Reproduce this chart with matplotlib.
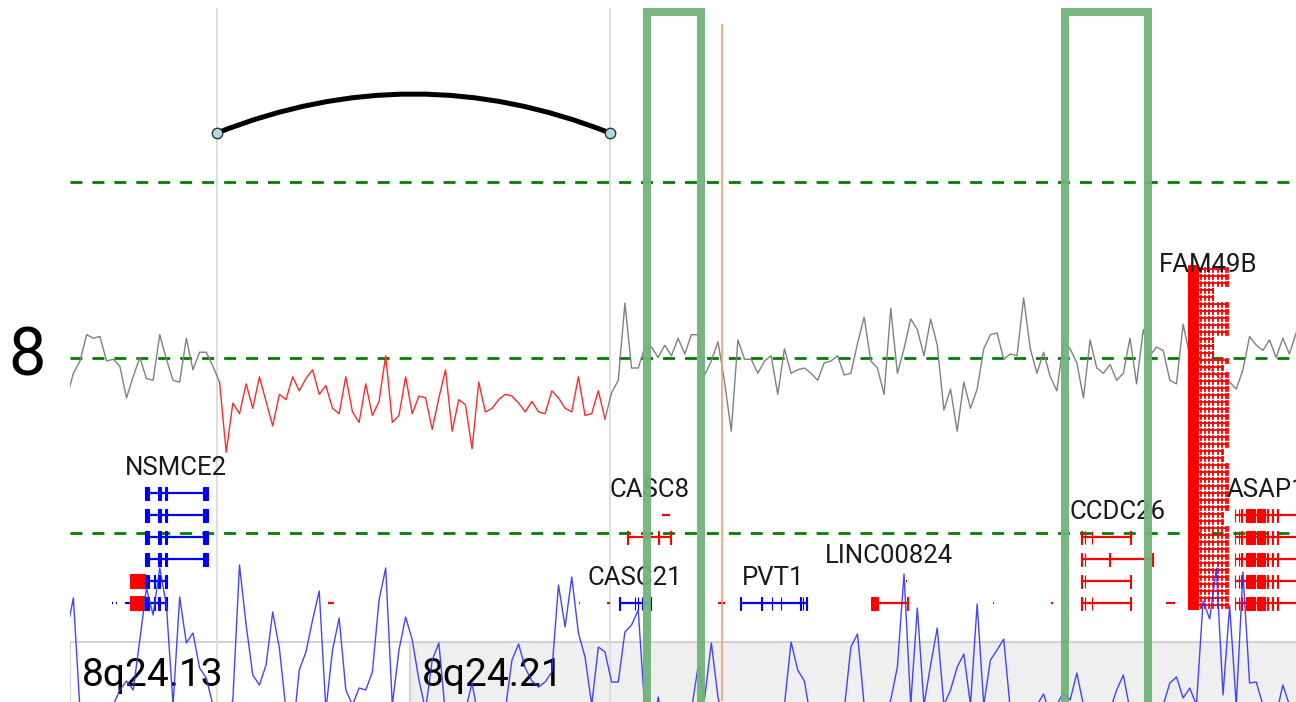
import numpy as np
import matplotlib.pyplot as plt
from matplotlib.patches import Rectangle, PathPatch
from matplotlib.path import Path

plt.rcParams['font.family'] = ['Roboto', 'DejaVu Sans']

# chr8 window shown, in Mb
VIEW = (125.749, 131.339)
BIN_START = 125.734
BIN_SIZE = 0.0303

# copy-number log ratio per bin
signal = [
    -0.23, -0.09, -0.02, 0.13, 0.11, 0.12, -0.02, -0.01, -0.05, -0.23,
    -0.11, 0.00, -0.12, -0.13, 0.13, -0.01, -0.13, -0.14, 0.11, -0.07,
    0.03, 0.03, -0.05, -0.14, -0.54, -0.26, -0.32, -0.15, -0.29, -0.11,
    -0.25, -0.39, -0.21, -0.24, -0.11, -0.19, -0.12, -0.07, -0.21, -0.16,
    -0.29, -0.32, -0.11, -0.31, -0.37, -0.15, -0.33, -0.25, 0.01, -0.37,
    -0.33, -0.11, -0.32, -0.22, -0.23, -0.41, -0.23, -0.07, -0.42, -0.24,
    -0.27, -0.52, -0.14, -0.31, -0.29, -0.24, -0.21, -0.22, -0.26, -0.31,
    -0.25, -0.31, -0.32, -0.19, -0.23, -0.29, -0.31, -0.11, -0.33, -0.32,
    -0.19, -0.35, -0.20, -0.13, 0.31, -0.06, -0.06, 0.06, 0.06, 0.00,
    0.07, 0.01, 0.11, 0.02, 0.13, 0.13, -0.10, -0.02, 0.09, -0.14,
    -0.42, 0.10, -0.01, -0.01, -0.09, -0.02, 0.01, -0.21, 0.05, -0.09,
    -0.07, -0.06, -0.09, -0.13, -0.03, -0.02, 0.01, -0.10, -0.09, 0.08,
    0.23, -0.02, -0.06, -0.21, 0.28, -0.09, 0.05, 0.22, 0.16, 0.01,
    0.22, 0.07, -0.30, -0.18, -0.42, -0.14, -0.29, -0.18, 0.05, 0.13,
    0.14, -0.01, 0.02, 0.01, 0.34, 0.05, -0.09, 0.03, -0.11, -0.19,
    0.09, 0.05, -0.03, -0.23, 0.10, -0.06, -0.09, -0.04, -0.13, -0.09,
    0.11, -0.15, 0.16, 0.01, 0.06, 0.04, -0.13, -0.15, 0.19, 0.01,
    -0.03, -0.06, -0.06, -0.10, -0.13, -0.14, -0.18, -0.07, 0.12, 0.07,
    0.04, 0.10, 0.00, 0.11, 0.02, 0.14,
]

# read coverage per bin
coverage = [
    12.8, 16.2, 5.0, 3.0, 2.0, 3.5, 4.5, 5.5, 7.0, 7.9,
    7.0, 12.0, 17.2, 14.5, 19.2, 15.5, 5.5, 16.3, 11.7, 12.7,
    9.2, 8.2, 5.5, 2.0, 4.0, 6.0, 19.5, 13.5, 8.5, 7.5,
    9.5, 14.8, 11.2, 5.0, 2.5, 9.0, 10.8, 14.0, 16.9, 5.0,
    11.0, 14.2, 7.0, 5.5, 7.2, 7.0, 8.8, 16.0, 19.2, 5.5,
    11.0, 14.3, 12.0, 8.0, 5.0, 10.0, 11.7, 4.5, 2.0, 2.5,
    5.0, 7.7, 4.0, 1.0, 1.5, 3.0, 5.0, 10.0, 11.6, 9.2,
    7.9, 7.3, 7.8, 8.8, 17.5, 13.3, 18.3, 12.7, 10.3, 5.5,
    11.3, 10.8, 7.8, 7.8, 12.8, 13.5, 15.0, 5.0, 2.0, 6.3,
    3.0, 2.0, 3.0, 4.0, 5.0, 9.3, 6.2, 11.7, 6.3, 3.0,
    1.0, 2.0, 4.0, 5.5, 3.5, 1.5, 2.0, 4.0, 5.5, 11.8,
    9.0, 7.9, 4.0, 1.5, 2.0, 3.0, 4.5, 5.0, 11.3, 12.6,
    5.5, 2.5, 2.0, 4.5, 6.0, 9.3, 18.6, 5.5, 15.2, 5.5,
    9.5, 13.2, 5.5, 7.0, 9.3, 10.6, 5.5, 15.6, 5.5, 10.0,
    11.0, 12.1, 5.0, 2.0, 2.5, 4.0, 5.5, 6.6, 4.5, 5.5,
    6.8, 6.0, 8.7, 5.5, 3.0, 2.0, 3.0, 5.0, 7.0, 8.5,
    5.0, 2.0, 1.5, 2.5, 4.0, 5.5, 7.7, 8.3, 6.2, 7.2,
    5.5, 15.9, 14.1, 19.2, 6.5, 15.4, 5.5, 18.8, 7.7, 7.8,
    5.5, 3.5, 4.5, 7.5, 5.5, 4.0,
]

LOSS_REGION = (126.42, 128.21)
LOOP = (126.419, 128.211)
HIGHLIGHTS = [(128.380, 128.626), (130.286, 130.665)]
MARKER_POS = 128.722

BAND_NAMES = ["8q24.13", "8q24.21"]
BAND_START = [117.7, 127.3]
BAND_END = [127.3, 131.5]
BAND_COLORS = ["white", "#efefef"]

# transcripts: (row, start, end, exons); row 0 is the lowest gene row
NSMCE2 = [(r, 126.091, 126.377, [(126.091, 126.110), (126.152, 126.162),
                                  (126.181, 126.190), (126.357, 126.377)]) for r in (5, 4, 3, 2)]
NSMCE2 += [(r, 126.091, 126.190, [(126.091, 126.110), (126.133, 126.137),
                                  (126.152, 126.158), (126.181, 126.190)]) for r in (1, 0)]
CASC8 = [(3, 128.291, 128.489, [(128.290, 128.295), (128.428, 128.433), (128.484, 128.489)]),
         (4, 128.448, 128.485, [])]
CASC21 = [(0, 128.252, 128.398, [(128.251, 128.256), (128.323, 128.327), (128.337, 128.341),
                                 (128.355, 128.359), (128.394, 128.399)])]
PVT1 = [(0, 128.804, 129.110, [(128.802, 128.807), (128.898, 128.902), (128.948, 128.952),
                               (128.989, 128.993), (129.076, 129.080), (129.089, 129.093),
                               (129.106, 129.111)])]
LINC00824 = [(0, 129.401, 129.570, [(129.401, 129.433), (129.566, 129.571)]),
             (1, 129.560, 129.563, [])]
CCDC26 = [(3, 130.357, 130.587, [(130.357, 130.361), (130.375, 130.379), (130.407, 130.411), (130.582, 130.587)]),
          (2, 130.357, 130.689, [(130.357, 130.361), (130.375, 130.379), (130.485, 130.489), (130.684, 130.689)]),
          (1, 130.357, 130.587, [(130.357, 130.361), (130.375, 130.379), (130.582, 130.587)]),
          (0, 130.357, 130.587, [(130.357, 130.361), (130.375, 130.379), (130.407, 130.411), (130.582, 130.587)])]
ASAP1 = [(r, 131.059, 131.350, [(131.059, 131.063), (131.077, 131.081), (131.090, 131.094),
                                (131.113, 131.152), (131.159, 131.198), (131.209, 131.213),
                                (131.228, 131.232), (131.251, 131.255)]) for r in (4, 3, 2, 1, 0)]

# FAM49B isoforms are stacked tightly, one end coordinate per isoform
FAM49B_START = 130.847
FAM49B_BLOCK = (130.847, 130.891)
FAM49B_TICKS = [130.902, 130.920, 130.938, 130.956, 130.979, 130.997, 131.016]
FAM49B_ENDS = [131.029, 131.029, 131.029, 130.961, 130.961, 131.029, 131.029, 131.029,
               131.029, 131.029, 130.961, 130.961, 130.961, 131.029, 131.006, 131.029,
               131.029, 131.029, 131.029, 131.029, 131.029, 131.029, 131.029, 131.029,
               131.029, 131.029, 131.006, 131.006, 131.029, 131.029, 131.029, 131.029,
               131.029, 131.029, 131.029, 131.006, 131.006, 131.029, 131.029, 131.029,
               131.029, 131.029, 131.029, 131.029, 131.029, 131.029, 131.029, 131.029,
               131.029]

# small unlabeled features: (row, start, end, colour, exons)
SMALL = [
    (1, 126.022, 126.091, "red", [(126.022, 126.091)]),
    (0, 126.022, 126.091, "red", [(126.022, 126.091)]),
    (0, 125.942, 125.944, "blue", []), (0, 125.960, 125.962, "blue", []),
    (0, 125.976, 125.978, "blue", []), (0, 126.000, 126.022, "blue", []),
    (1, 126.432, 126.434, "blue", []), (0, 126.432, 126.434, "blue", []),
    (1, 126.947, 126.949, "red", []), (0, 126.925, 126.953, "red", []),
    (0, 127.330, 127.332, "blue", []),
    (1, 127.558, 127.560, "red", []), (0, 127.558, 127.560, "red", []),
    (0, 128.014, 128.016, "blue", []), (0, 128.073, 128.075, "red", []),
    (0, 128.198, 128.211, "red", []), (3, 128.087, 128.089, "blue", []),
    (1, 128.739, 128.741, "blue", []), (0, 128.703, 128.735, "red", []),
    (0, 129.957, 129.960, "red", []), (0, 130.223, 130.231, "red", []),
    (0, 130.747, 130.788, "red", []),
]

GENES = [("NSMCE2", "blue", NSMCE2), ("CASC8", "red", CASC8), ("CASC21", "blue", CASC21),
         ("PVT1", "blue", PVT1), ("LINC00824", "red", LINC00824), ("CCDC26", "red", CCDC26),
         ("ASAP1", "red", ASAP1)]

W, H = 1296, 702
ROW0_Y, ROW_STEP = 603, 22
FAM_TOP, FAM_STEP = 269, 7

fig = plt.figure(figsize=(W / 100, H / 100), dpi=100)
left = 70 / W


def frame(top_px, bottom_px):
    return [left, 1 - bottom_px / H, 1 - left, (bottom_px - top_px) / H]


def overlay():
    a = fig.add_axes(frame(0, H))
    a.set_xlim(*VIEW)
    a.set_ylim(H, 0)
    a.axis('off')
    a.patch.set_alpha(0)
    return a


def draw_tx(a, y, start, end, exons, color, exon_h=13, lw=1.6):
    if end - start < 0.004:
        start, end = start - 0.001, end + 0.001
    a.plot([start, end], [y, y], color=color, lw=lw, solid_capstyle='butt')
    for s, e in exons:
        a.add_patch(Rectangle((s, y - exon_h / 2), e - s, exon_h,
                              facecolor=color, edgecolor=color, lw=0.8))


# background: cytobands, loop anchors, arc
ax_bg = overlay()
for name, s, e, c in zip(BAND_NAMES, BAND_START, BAND_END, BAND_COLORS):
    s0, e0 = max(s, VIEW[0]), min(e, VIEW[1] + 1)
    ax_bg.add_patch(Rectangle((s0, 642), e0 - s0, 70, facecolor=c, edgecolor='#d2d2d2', lw=1.5))
    ax_bg.text(s0 + 0.055, 686, name, fontsize=28, color='black', va='baseline', ha='left')
ax_bg.vlines(LOOP, 8, H, color='#dcdcdc', lw=1.3)
xm = (LOOP[0] + LOOP[1]) / 2
arc = Path([(LOOP[0], 133), (xm, 55), (LOOP[1], 133)], [Path.MOVETO, Path.CURVE3, Path.CURVE3])
ax_bg.add_patch(PathPatch(arc, fill=False, lw=3.6, edgecolor='black'))
ax_bg.plot(LOOP, [133, 133], 'o', ms=7.5, mfc='#add8e6', mec='#333333', mew=1, zorder=5)

# copy-number track
ax_sig = fig.add_axes(frame(182, 533))
ax_sig.set_xlim(*VIEW)
ax_sig.set_ylim(-1, 1)
ax_sig.axis('off')
ax_sig.patch.set_alpha(0)
for yv in (-1, 0, 1):
    ax_sig.axhline(yv, color='green', lw=2.0, ls=(0, (4.3, 3.6)), clip_on=False)
pos = BIN_START + BIN_SIZE * np.arange(len(signal))
sig = np.array(signal)
loss = (pos >= LOSS_REGION[0]) & (pos <= LOSS_REGION[1])
idx = np.where(loss)[0]
ax_sig.plot(pos[:idx[0] + 1], sig[:idx[0] + 1], color='#808080', lw=1.0)
ax_sig.plot(pos[idx[-1]:], sig[idx[-1]:], color='#808080', lw=1.0)
ax_sig.plot(pos[loss], sig[loss], color='#ff2a2a', lw=1.0)

# gene track
ax_g = overlay()
for row, s, e, c, ex in SMALL:
    draw_tx(ax_g, ROW0_Y - ROW_STEP * row, s, e, ex, c, exon_h=14)
for name, c, txs in GENES:
    for row, s, e, ex in txs:
        draw_tx(ax_g, ROW0_Y - ROW_STEP * row, s, e, ex, c)
    top = max(t[0] for t in txs)
    lo = min(t[1] for t in txs)
    hi = max(t[2] for t in txs)
    ax_g.text((lo + hi) / 2, ROW0_Y - ROW_STEP * top - 18, name, fontsize=18.5,
              color='#1a1a1a', ha='center', va='baseline')
for k, end in enumerate(FAM49B_ENDS):
    y = FAM_TOP + FAM_STEP * k
    ticks = [(t, t + 0.003) for t in FAM49B_TICKS if t < end - 0.004] + [(end - 0.004, end)]
    draw_tx(ax_g, y, FAM49B_START, end, [FAM49B_BLOCK], 'red', exon_h=8, lw=1.3)
    for s, e in ticks:
        ax_g.add_patch(Rectangle((s, y - 2.5), e - s, 5, facecolor='red', edgecolor='red', lw=0.6))
fam_lo, fam_hi = FAM49B_START, max(FAM49B_ENDS)
ax_g.text((fam_lo + fam_hi) / 2, FAM_TOP + 3, "FAM49B", fontsize=18.5, color='#1a1a1a',
          ha='center', va='baseline')

# coverage track
ax_cov = fig.add_axes(frame(555, H))
ax_cov.set_xlim(*VIEW)
ax_cov.set_ylim(5.8, 20.5)
ax_cov.axis('off')
ax_cov.patch.set_alpha(0)
ax_cov.plot(pos, coverage, color='#3030ff', lw=1.0, alpha=0.9)

# highlighted regions and marker
ax_top = overlay()
for s, e in HIGHLIGHTS:
    ax_top.plot([s, s, e, e], [H + 20, 12, 12, H + 20], color='#72b27a', lw=5.8,
                solid_joinstyle='miter', alpha=0.95)
ax_top.plot([MARKER_POS, MARKER_POS], [25, 700], color='#f0a070', lw=1.2)

fig.text(27 / W, 1 - 375 / H, "8", fontsize=48, ha='center', va='baseline')

fig.savefig('out.png', dpi=100)
